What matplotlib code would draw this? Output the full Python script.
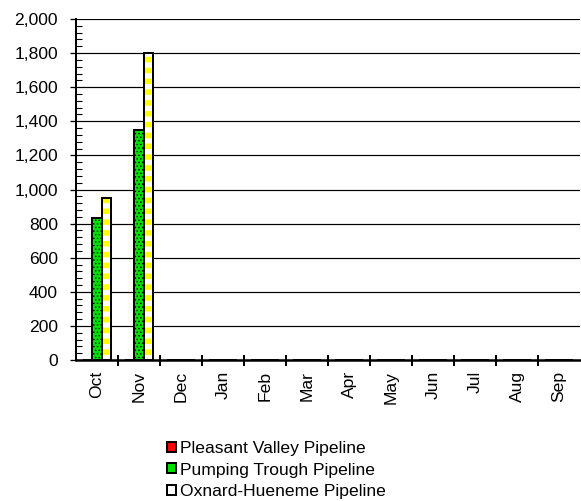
import matplotlib
matplotlib.use("Agg")
import matplotlib.pyplot as plt
from matplotlib.patches import Patch
from matplotlib.ticker import MultipleLocator, FuncFormatter, FixedLocator
import numpy as np

months = ["Oct", "Nov", "Dec", "Jan", "Feb", "Mar", "Apr", "May", "Jun", "Jul", "Aug", "Sep"]
pleasant_valley = [0, 0, 0, 0, 0, 0, 0, 0, 0, 0, 0, 0]
pumping_trough = [830, 1350, 0, 0, 0, 0, 0, 0, 0, 0, 0, 0]
oxnard_hueneme = [950, 1800, 0, 0, 0, 0, 0, 0, 0, 0, 0, 0]
series_names = ["Pleasant Valley Pipeline", "Pumping Trough Pipeline", "Oxnard-Hueneme Pipeline"]

plt.rcParams["font.family"] = ["Liberation Sans", "DejaVu Sans"]

W, H = 581, 501
DPI = 130


def P(px):
    """Convert a size in pixels to points at the figure dpi."""
    return px * 72.0 / DPI


FS = P(17.5)

fig = plt.figure(figsize=(W / DPI, H / DPI), dpi=DPI)
ax = fig.add_axes([76 / W, (H - 360) / H, (580 - 76) / W, (360 - 19) / H])

x = np.arange(len(months))
bw = 0.22

# Pleasant Valley (red, all zero this year)
ax.bar(x - bw, pleasant_valley, bw, color="#FF0000", edgecolor="black", linewidth=P(2), zorder=3)

# Pumping Trough: green with fine black dots
with plt.rc_context({"hatch.linewidth": P(0.8)}):
    ax.bar(x, pumping_trough, bw, color="#00E000", edgecolor="black", hatch="......",
           linewidth=P(2), zorder=3)

# Oxnard-Hueneme: white with yellow horizontal dashes, black outline on top
ax.bar(x + bw, oxnard_hueneme, bw, color="white", linewidth=0, zorder=3)
with plt.rc_context({"hatch.linewidth": P(5.5)}):
    ax.bar(x + bw, oxnard_hueneme, bw * 0.62, color="white", edgecolor="#FFFF00", hatch="--",
           linewidth=0, zorder=3)
ax.bar(x + bw, oxnard_hueneme, bw, facecolor="none", edgecolor="black", linewidth=P(2), zorder=4)

ax.set_xlim(-0.5, len(months) - 0.5)
ax.set_ylim(0, 2000)

# Y axis: major every 200 with gridlines, minor every 40 pointing inward
ax.yaxis.set_major_locator(MultipleLocator(200))
ax.yaxis.set_minor_locator(MultipleLocator(40))
ax.yaxis.set_major_formatter(FuncFormatter(lambda v, p: f"{int(v):,}"))
ax.tick_params(axis="y", which="major", direction="out", length=P(6), width=P(1.3),
               labelsize=FS, pad=P(12))
ax.tick_params(axis="y", which="minor", direction="in", length=P(5.5), width=P(1.1))
ax.grid(axis="y", which="major", color="black", linewidth=P(1.2), zorder=1)

# X axis: labels at category centres, tick marks on category boundaries
ax.set_xticks(x)
ax.set_xticklabels(months, rotation=90, fontsize=FS)
ax.tick_params(axis="x", which="major", length=0, pad=P(11))
ax.xaxis.set_minor_locator(FixedLocator(x[:-1] + 0.5))
ax.tick_params(axis="x", which="minor", direction="inout", length=P(11), width=P(2))

for s in ["top", "right"]:
    ax.spines[s].set_visible(False)
ax.spines["left"].set_linewidth(P(2))
ax.spines["bottom"].set_linewidth(P(2.5))
ax.spines["left"].set_zorder(5)
ax.spines["bottom"].set_zorder(5)

handles = [
    Patch(facecolor="#FF0000", edgecolor="black", linewidth=P(2)),
    Patch(facecolor="#00E000", edgecolor="black", linewidth=P(2)),
    Patch(facecolor="white", edgecolor="black", linewidth=P(2)),
]
fig.legend(handles, series_names, loc="upper left", bbox_to_anchor=(167 / W, 1 - 441 / H),
           frameon=False, fontsize=FS, handlelength=0.5, handleheight=0.5,
           handletextpad=0.25, labelspacing=0.38, borderaxespad=0, borderpad=0)

fig.savefig("out.png", dpi=DPI)
